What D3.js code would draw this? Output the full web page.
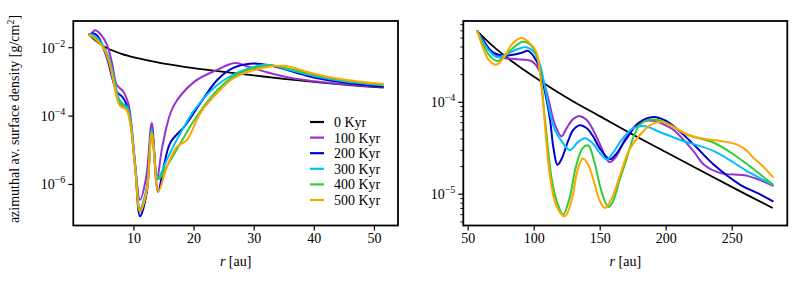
<!DOCTYPE html>
<html>
<head>
<meta charset="utf-8">
<script src="https://cdn.jsdelivr.net/npm/d3@7"></script>
<style>
  body { margin: 0; background: #fff; }
  svg text { font-family: "Liberation Serif", "Times New Roman", serif; fill: #000; }
</style>
</head>
<body>
<div id="chart"></div>
<script>
// series labels and colours
var labels = ["0 Kyr", "100 Kyr", "200 Kyr", "300 Kyr", "400 Kyr", "500 Kyr"];
var colors = ["#000000", "#9932cc", "#0000cd", "#00bfff", "#32cd32", "#ffa500"];

// inner disc: [r (au), log10 sigma]
var in0 = [[2.5,-1.60],[4,-1.83],[5.6,-2.01],[8,-2.18],[10.5,-2.30],[14,-2.43],[17.75,-2.54],[20,-2.6],[25,-2.71],[30,-2.81],[35,-2.91],[40,-3.0],[45,-3.08],[51.6,-3.17]];
var in100 = [[3.1,-1.57],[3.6,-1.49],[4.5,-1.6],[5.6,-1.91],[6.5,-2.5],[7.2,-3.08],[8.3,-3.28],[9.2,-3.67],[9.7,-4.3],[10.3,-5.42],[11.1,-6.45],[12.1,-5.81],[13.05,-4.2],[13.9,-5.87],[14.8,-4.9],[16.6,-3.73],[20.1,-3.0],[23.9,-2.65],[26.9,-2.45],[29,-2.55],[32.2,-2.72],[36,-2.88],[40,-2.98],[45,-3.07],[51.6,-3.15]];
var in200 = [[2.8,-1.61],[3.2,-1.58],[4,-1.65],[5.6,-2.3],[6.5,-2.9],[7.2,-3.28],[8.3,-3.47],[9.2,-3.86],[9.6,-4.3],[10.3,-5.5],[11.1,-6.93],[12.2,-6.25],[13.05,-4.4],[14.1,-6.21],[15,-5.5],[16.1,-4.79],[17.7,-4.45],[18.5,-4.3],[21.1,-3.63],[23.9,-2.95],[26.6,-2.59],[29.9,-2.46],[33,-2.53],[38,-2.78],[40,-2.87],[45,-3.02],[51.6,-3.14]];
var in300 = [[2.7,-1.6],[3.5,-1.65],[5,-1.95],[6,-2.35],[6.9,-3.0],[7.6,-3.5],[8.3,-3.65],[9,-3.75],[9.5,-4.1],[10.3,-5.45],[11.1,-6.7],[12.2,-6.1],[13.05,-4.4],[14.1,-5.8],[15.5,-5.3],[16.6,-4.9],[18.3,-4.35],[20.1,-3.83],[23.9,-3.1],[27.7,-2.7],[32,-2.5],[36,-2.65],[40,-2.83],[45,-2.98],[51.6,-3.1]];
var in400 = [[2.6,-1.62],[3.5,-1.7],[5,-1.98],[6,-2.4],[6.8,-3.0],[7.5,-3.55],[8.3,-3.72],[9,-3.8],[9.5,-4.2],[10.3,-5.5],[11.1,-6.75],[12.2,-6.15],[13.05,-4.45],[14.1,-5.85],[15.5,-5.48],[17.8,-4.8],[20.1,-4.12],[23.9,-3.25],[27,-2.8],[30,-2.6],[33,-2.52],[36,-2.62],[40,-2.79],[45,-2.95],[51.6,-3.08]];
var in500 = [[2.5,-1.62],[3.5,-1.72],[5,-2.01],[6,-2.45],[6.7,-3.0],[7.3,-3.5],[7.8,-3.71],[8.8,-3.81],[9.4,-4.15],[10.3,-5.52],[11.1,-6.79],[12.2,-6.2],[13.05,-4.5],[14.15,-6.2],[15.5,-5.52],[17.2,-4.9],[18.9,-4.7],[21.1,-3.92],[23.9,-3.33],[26.6,-2.9],[30.1,-2.65],[35,-2.53],[38,-2.66],[40,-2.76],[44.6,-2.92],[51.6,-3.06]];

// outer disc: [r (au), log10 sigma]
var out0 = [[56.8,-3.22],[70,-3.40],[85,-3.57],[100,-3.72],[115,-3.86],[130,-3.99],[150,-4.15],[175,-4.35],[200,-4.54],[225,-4.73],[250,-4.92],[281,-5.15]];
var out100 = [[57.1,-3.22],[62,-3.33],[67.8,-3.45],[72,-3.50],[77.9,-3.52],[88,-3.53],[98.2,-3.55],[102,-3.60],[105.8,-3.70],[110.9,-3.95],[116,-4.24],[121,-4.37],[125,-4.28],[130,-4.18],[135,-4.15],[140,-4.19],[145,-4.3],[150,-4.45],[157.3,-4.65],[162,-4.6],[170,-4.38],[180,-4.22],[190.8,-4.2],[200,-4.25],[206,-4.30],[221,-4.53],[229,-4.68],[241.5,-4.77],[261.9,-4.80],[281.6,-4.91]];
var out200 = [[57.1,-3.22],[62,-3.33],[67,-3.43],[72.8,-3.48],[80,-3.49],[85.5,-3.48],[91,-3.46],[95.7,-3.44],[100,-3.50],[104.6,-3.63],[108,-3.85],[112.2,-4.17],[115,-4.50],[118,-4.68],[121,-4.62],[126.1,-4.42],[130,-4.30],[135,-4.25],[140,-4.28],[145,-4.37],[150,-4.50],[157.8,-4.62],[162,-4.57],[170,-4.40],[180,-4.22],[190.8,-4.16],[200,-4.20],[211,-4.32],[224,-4.50],[236.5,-4.68],[256.8,-4.90],[270,-4.99],[281.6,-5.08]];
var out300 = [[57.1,-3.22],[62,-3.35],[67,-3.45],[72.8,-3.51],[80,-3.47],[88,-3.42],[94.4,-3.40],[100,-3.45],[104.6,-3.58],[108,-3.80],[112.2,-4.10],[116,-4.30],[121,-4.42],[127.4,-4.52],[133,-4.44],[138.8,-4.39],[145,-4.45],[150,-4.55],[155.3,-4.62],[160,-4.55],[167,-4.40],[175.6,-4.28],[184.5,-4.26],[195,-4.32],[211,-4.41],[236.5,-4.53],[261.9,-4.75],[281.6,-4.90]];
var out400 = [[57.1,-3.22],[62,-3.38],[67,-3.50],[72.8,-3.55],[78,-3.50],[85,-3.40],[91.9,-3.34],[98,-3.38],[103.3,-3.55],[108.4,-4.17],[113.5,-4.82],[118,-5.10],[122.3,-5.22],[127,-5.05],[132,-4.70],[137,-4.50],[141.3,-4.47],[146,-4.65],[151,-4.95],[156.5,-5.14],[160,-5.08],[165,-4.85],[170.5,-4.61],[175,-4.40],[180.7,-4.24],[187,-4.19],[193.4,-4.19],[200,-4.22],[216.2,-4.35],[236.5,-4.44],[251.7,-4.57],[266,-4.72],[281.6,-4.90]];
var out500 = [[57.1,-3.22],[62,-3.42],[66,-3.54],[71.6,-3.59],[77,-3.52],[84,-3.36],[90.6,-3.30],[96,-3.34],[102,-3.45],[104.5,-3.65],[107,-3.99],[112.2,-4.79],[117,-5.12],[123.6,-5.24],[129,-5.05],[133,-4.75],[137,-4.61],[141,-4.67],[146,-4.88],[150,-5.07],[154,-5.15],[159,-5.05],[165.5,-4.79],[172,-4.53],[180.7,-4.35],[188,-4.25],[195.9,-4.21],[205,-4.26],[216.2,-4.35],[230,-4.40],[241.5,-4.42],[254.2,-4.46],[261,-4.52],[266.9,-4.61],[274,-4.70],[281.6,-4.82]];

// ticks
var inXTicks = [10, 20, 30, 40, 50];
var inYTicks = [-2, -4, -6];
var outXTicks = [50, 100, 150, 200, 250];
var outYTicks = [-4, -5];

var W = 798, H = 281;
var svg = d3.select("#chart").append("svg")
    .attr("width", W)
    .attr("height", H);

function panel(opt) {
    var x = d3.scaleLinear().domain(opt.xdom).range([opt.left, opt.right]);
    var y = d3.scaleLog().domain(opt.ydom).range([opt.bottom, opt.top]);
    var g = svg.append("g");

    var line = d3.line()
        .x(function(d){ return x(d[0]); })
        .y(function(d){ return y(Math.pow(10, d[1])); })
        .curve(d3.curveCatmullRom.alpha(0.5));

    opt.series.forEach(function(s, i){
        g.append("path")
            .attr("d", line(s))
            .attr("fill", "none")
            .attr("stroke", colors[i])
            .attr("stroke-width", i == 0 ? 1.8 : 2.0)
            .attr("stroke-linejoin", "round");
    });

    // x axis
    var xa = g.append("g")
        .attr("transform", "translate(0," + opt.bottom + ")")
        .call(d3.axisBottom(x).tickValues(opt.xticks).tickSize(5).tickPadding(3).tickFormat(d3.format("d")));
    xa.select(".domain").remove();
    xa.selectAll("line").attr("stroke", "#000").attr("stroke-width", 1.2);
    xa.selectAll("text").style("font-size", "14px").attr("font-family", null);

    // y axis major ticks with 10^n labels
    opt.yticks.forEach(function(e){
        var yy = y(Math.pow(10, e));
        g.append("line")
            .attr("x1", opt.left - 5).attr("x2", opt.left)
            .attr("y1", yy).attr("y2", yy)
            .attr("stroke", "#000").attr("stroke-width", 1.2);
        var t = g.append("text")
            .attr("x", opt.left - 8)
            .attr("y", yy + 5)
            .attr("text-anchor", "end")
            .style("font-size", "14px");
        t.append("tspan").text("10");
        t.append("tspan").attr("dy", -6).style("font-size", "10px").text("\u2212" + Math.abs(e));
    });

    // minor ticks
    if (opt.minor) {
        var lo = Math.floor(Math.log10(opt.ydom[0])), hi = Math.ceil(Math.log10(opt.ydom[1]));
        for (var p = lo; p < hi; p++) {
            for (var k = 2; k <= 9; k++) {
                var v = k * Math.pow(10, p);
                if (v < opt.ydom[0] || v > opt.ydom[1]) continue;
                g.append("line")
                    .attr("x1", opt.left - 3).attr("x2", opt.left)
                    .attr("y1", y(v)).attr("y2", y(v))
                    .attr("stroke", "#000").attr("stroke-width", 0.9);
            }
        }
    }

    // frame
    g.append("rect")
        .attr("x", opt.left).attr("y", opt.top)
        .attr("width", opt.right - opt.left)
        .attr("height", opt.bottom - opt.top)
        .attr("fill", "none")
        .attr("stroke", "#000")
        .attr("stroke-width", 1.8);

    // x label
    var xl = g.append("text")
        .attr("x", (opt.left + opt.right) / 2)
        .attr("y", 266)
        .attr("text-anchor", "middle")
        .style("font-size", "14px");
    xl.append("tspan").style("font-style", "italic").text("r");
    xl.append("tspan").text(" [au]");

    return {x: x, y: y, g: g};
}

var p1 = panel({
    left: 73.3, right: 398, top: 21, bottom: 225.5,
    xdom: [0, 54.0], ydom: [Math.pow(10, -7.2), Math.pow(10, -1.219)],
    xticks: inXTicks, yticks: inYTicks, minor: false,
    series: [in0, in100, in200, in300, in400, in500]
});

var p2 = panel({
    left: 463.3, right: 787.3, top: 21, bottom: 225.5,
    xdom: [46.67, 292.1], ydom: [Math.pow(10, -5.34), Math.pow(10, -3.115)],
    xticks: outXTicks, yticks: outYTicks, minor: true,
    series: [out0, out100, out200, out300, out400, out500]
});

// y label
var yl = svg.append("text")
    .attr("transform", "translate(19,119) rotate(-90)")
    .attr("text-anchor", "middle")
    .style("font-size", "14px");
yl.append("tspan").text("azimuthal av. surface density [g/cm");
yl.append("tspan").attr("dy", -5).style("font-size", "10px").text("2");
yl.append("tspan").attr("dy", 5).text("]");

// legend
var leg = svg.append("g");
labels.forEach(function(l, i){
    var yy = 122 + i * 15.6;
    leg.append("line")
        .attr("x1", 310).attr("x2", 324)
        .attr("y1", yy).attr("y2", yy)
        .attr("stroke", colors[i]).attr("stroke-width", 2.2);
    leg.append("text")
        .attr("x", 334).attr("y", yy + 5)
        .style("font-size", "14px")
        .text(l);
});
</script>
</body>
</html>
